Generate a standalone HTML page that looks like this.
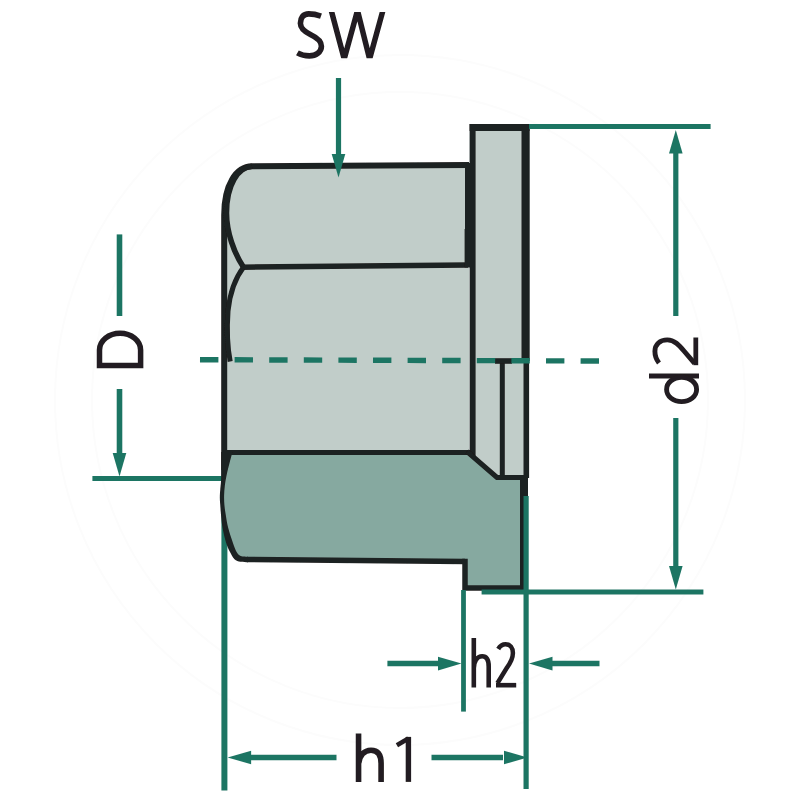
<!DOCTYPE html>
<html><head><meta charset="utf-8"><title>Flange nut dimensions</title>
<style>
html,body{margin:0;padding:0;background:#fff;}
body{width:800px;height:800px;overflow:hidden;font-family:"Liberation Sans",sans-serif;}
svg{display:block;}
text{font-family:"Liberation Sans",sans-serif;fill:#231f20;}
</style></head><body>
<svg width="800" height="800" viewBox="0 0 800 800">
<defs><filter id="soft" x="0" y="0" width="800" height="800" filterUnits="userSpaceOnUse"><feGaussianBlur stdDeviation="0.45"/></filter></defs>
<rect width="800" height="800" fill="#fff"/>
<g filter="url(#soft)">
<g fill="none" stroke="#fcfcfc" stroke-width="2"><circle cx="400" cy="400" r="345"/><circle cx="400" cy="400" r="308"/></g>
<!-- green lines behind the part -->
<g stroke="#1f7564" fill="none" stroke-linecap="butt">
 <path d="M224.4,470 V790.6" stroke-width="6"/>
 <path d="M92.4,478.5 H226" stroke-width="5"/>
</g>
<!-- fills -->
<path fill="#c1cdc9" d="M469,165 L252,166.3 C236,166.5 224,185 224,215 L224,452.5 L469,452.5 Z"/>
<path fill="#c1cdc9" d="M472.6,127.5 H525.5 V477.5 H497 L472.6,456 Z"/>
<path fill="#86a9a0" d="M230,452 C226,462 223,478 222.5,495 C222.3,508 223.5,518 225.3,527.5 C226.5,533 228,538 229.4,542.5 C230.8,546.5 232,549.5 233.3,552 C236,557.5 240,559.3 247,559.4 L465,561.5 V587.5 H524 V477.5 H497 L468,452.5 Z"/>
<!-- black outlines -->
<g stroke="#1f2020" fill="none" stroke-linejoin="miter" stroke-linecap="butt">
 <path d="M469,165 L252,166.3 C236,166.5 224.2,185 224.2,215 L224.2,470" stroke-width="6"/>
 <path d="M252,166.3 C238,167 226.5,185 226.5,213 C226.5,232 234,253 243.5,267.2" stroke-width="5.5"/>
 <path d="M243.5,267.2 C236,277 230,292 228,311 C227,325 227,345 230.2,361.5" stroke-width="5"/>
 <path d="M242,267.2 L468,265" stroke-width="5.5"/>
 <path d="M467.5,163 V229" stroke-width="5"/>
 <path d="M467.4,229 V267.5" stroke-width="5.6"/>
 <path d="M226,452.5 H470" stroke-width="5"/>
 <path d="M221.2,452 C221.20,454.67 221.22,463.33 221.20,468.00 C221.18,472.67 221.25,476.50 221.10,480.00 C220.95,483.50 220.52,486.17 220.30,489.00 C220.08,491.83 219.81,494.33 219.80,497.00 C219.79,499.67 220.05,502.10 220.25,505.00 C220.45,507.90 220.62,510.65 221.00,514.40 C221.38,518.15 221.67,522.82 222.50,527.50 C223.33,532.18 224.75,538.42 226.00,542.50 C227.25,546.58 228.58,549.20 230.00,552.00 C231.42,554.80 232.75,557.67 234.50,559.30 C236.25,560.93 238.25,561.32 240.50,561.80 C242.75,562.28 246.75,562.13 248.00,562.20 L248,556.7 C247.25,556.68 244.87,556.78 243.50,556.60 C242.13,556.42 240.95,556.37 239.80,555.60 C238.65,554.83 237.77,554.18 236.60,552.00 C235.43,549.82 234.22,546.58 232.80,542.50 C231.38,538.42 229.28,532.18 228.10,527.50 C226.92,522.82 226.32,518.15 225.70,514.40 C225.08,510.65 224.67,508.13 224.40,505.00 C224.13,501.87 224.03,498.77 224.10,495.60 C224.17,492.43 224.44,489.10 224.80,486.00 C225.16,482.90 225.76,479.67 226.25,477.00 C226.74,474.33 227.16,472.50 227.75,470.00 C228.34,467.50 229.01,465.00 229.80,462.00 C230.59,459.00 232.05,453.67 232.50,452.00 Z" fill="#1f2020" stroke="none"/>
 <path d="M247,559.45 L465,561.5" stroke-width="5.5"/>
 <path d="M465,558.8 V588 H528" stroke-width="5.5"/>
 <path d="M472.6,124 V456" stroke-width="6"/>
 <path d="M469.6,127.5 H529.6" stroke-width="7"/>
 <path d="M525.6,124 V361" stroke-width="8.2"/>
 <path d="M526.3,361 V478" stroke-width="5.6"/>
 <path d="M524,477 V590" stroke-width="8"/>
 <path d="M502.3,361 V478" stroke-width="5"/>
 <path d="M495,361 H512" stroke-width="5.6"/>
 <path d="M467,451.5 L497,477.5 H525" stroke-width="5"/>
</g>
<!-- green dimension lines -->
<g stroke="#1f7564" fill="none" stroke-linecap="butt">
 <path d="M200,359.7 L599.4,361" stroke-width="5.4" stroke-dasharray="18.4 16.2"/>
 <path d="M338.5,78 V158" stroke-width="5.2"/>
 <path d="M119.5,234.4 V316" stroke-width="5.6"/>
 <path d="M119.5,389 V456" stroke-width="5.6"/>
 <path d="M529,126.5 H710.6" stroke-width="5"/>
 <path d="M481.6,592 H703.4" stroke-width="5"/>
 <path d="M675.8,150 V316" stroke-width="5.2"/>
 <path d="M675.8,418 V569" stroke-width="5.2"/>
 <path d="M463.5,590 V711.6" stroke-width="4.8"/>
 <path d="M526.1,496 V789" stroke-width="5.2"/>
 <path d="M387.4,663.6 H440" stroke-width="5.5"/>
 <path d="M550,663.6 H599.5" stroke-width="5.5"/>
 <path d="M249,757.5 H336.5" stroke-width="5.5"/>
 <path d="M431.5,757.5 H503" stroke-width="5.5"/>
</g>
<g fill="#1f7564" stroke="none">
<polygon points="338.5,177.5 331.7,154.0 345.3,154.0"/>
<polygon points="119.5,476.5 112.7,453.0 126.3,453.0"/>
<polygon points="675.8,130.0 682.6,153.5 669.0,153.5"/>
<polygon points="675.8,589.5 669.0,566.0 682.6,566.0"/>
<polygon points="461.5,663.6 438.0,670.4 438.0,656.8"/>
<polygon points="529.0,663.6 552.5,656.8 552.5,670.4"/>
<polygon points="227.6,757.5 251.1,750.7 251.1,764.3"/>
<polygon points="527.5,757.5 504.0,764.3 504.0,750.7"/>
</g>
<g>

<defs><clipPath id="cw"><rect x="320" y="11.9" width="75" height="46.3"/></clipPath></defs>
<g fill="none" stroke="#231f20" stroke-linecap="butt" stroke-linejoin="miter">
 <!-- S -->
 <path d="M321,16.2 C316.5,14.6 312.5,13.9 308.8,13.9 C303,13.9 300.4,18 300.4,23.3 C300.4,29 305,32 310.8,34.7 C317,37.6 321.4,40.6 321.4,46.2 C321.4,52 316,55.9 309.3,55.9 C305,55.9 300.8,54.8 297.4,52.9" stroke-width="5.6"/>
 <!-- W -->
 <g clip-path="url(#cw)"><path d="M330.6,8 L344.2,59 L357.5,10.5 L369.6,59 L383.6,8" stroke-width="5.5" stroke-miterlimit="10"/></g>
 <!-- D rotated -->
 <path d="M99.5,365.6 V350 A20.55,16.8 0 0 1 140.6,350 V365.6 Z" stroke-width="5.5"/>
 <!-- d rotated -->
 <path d="M649,376 H699" stroke-width="5"/>
 <ellipse cx="681.6" cy="389.4" rx="15" ry="12.2" stroke-width="4.9"/>
 <!-- 2 rotated -->
 <path d="M659,363 C656.2,359.5 654.9,355.5 654.9,351.3 C654.9,344.3 660,339.9 667.3,339.9 C674.5,339.9 679,345 684,351 L694.6,363.4" stroke-width="4.9"/>
 <path d="M695.8,337.5 V365.2" stroke-width="4.8"/>
 <!-- h2 -->
 <path d="M473.8,638 V687.5 M473.8,668 C474.3,660.5 477.6,656.3 482.2,656.3 C486.8,656.3 488.7,659.8 488.7,666.5 V687.5" stroke-width="4.6"/>
 <path d="M498.2,649 C500,645.9 502.6,644.3 505.6,644.3 C510.2,644.3 512.9,647.6 512.9,653 C512.9,658 510.6,662.6 507,667.6 L497.4,683.2" stroke-width="4.5"/>
 <path d="M496,685.2 H516.2" stroke-width="4.6"/>
 <!-- h1 -->
 <path d="M358.55,733.5 V781.9 M358.55,764 C359.3,755.5 364.3,750.3 371,750.3 C378.2,750.3 381.1,755 381.1,763.5 V781.9" stroke-width="5.6"/>
 <path d="M408.4,736.9 V781.9" stroke-width="5.4"/>
 <path d="M396.9,745.2 L408.4,738.4" stroke-width="4.6"/>
</g>

</g>
</g>
</svg>
</body></html>
